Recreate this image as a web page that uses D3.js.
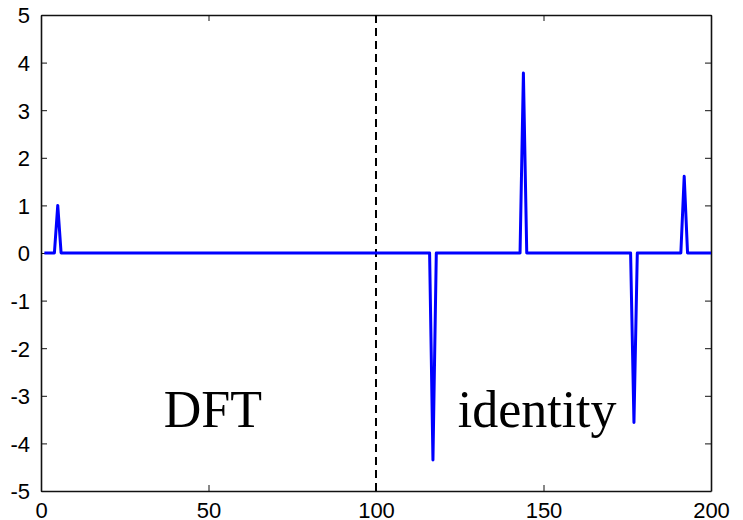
<!DOCTYPE html>
<html>
<head>
<meta charset="utf-8">
<script src="https://cdn.jsdelivr.net/npm/d3@7"></script>
<style>
  body { margin: 0; background: #fff; }
  svg { display: block; }
</style>
</head>
<body>
<div id="plot"></div>
<script>
// Signal vertices (sample index, value): flat at zero with five spikes
const sampleX = [1, 4, 5, 6, 116, 117, 118, 143, 144, 145, 176, 177, 178, 191, 192, 193, 200];
const sampleY = [0, 0, 1, 0, 0, -4.35, 0, 0, 3.78, 0, 0, -3.56, 0, 0, 1.61, 0, 0];

const xTicks = [0, 50, 100, 150, 200];
const yTicks = [-5, -4, -3, -2, -1, 0, 1, 2, 3, 4, 5];
const splitAt = 100;
const labels = [{text: "DFT", x: 51.3, y: -3.65}, {text: "identity", x: 148.1, y: -3.65}];

const W = 743, H = 520;
const margin = {top: 15, right: 32, bottom: 29, left: 41};
const width = W - margin.left - margin.right;
const height = H - margin.top - margin.bottom;

const svg = d3.select("#plot")
  .append("svg")
  .attr("width", W)
  .attr("height", H);

const g = svg.append("g")
  .attr("transform", `translate(${margin.left},${margin.top})`);

const x = d3.scaleLinear().domain([0, 200]).range([0, width]);
const y = d3.scaleLinear().domain([-5, 5]).range([height, 0]);

const tickFont = "Liberation Sans, Arial, sans-serif";
const plain = d => String(d); // hyphen minus like matlab

// axes with inward ticks (matlab style)
const axBottom = g.append("g")
  .attr("transform", `translate(0,${height})`)
  .call(d3.axisBottom(x).tickValues(xTicks).tickFormat(plain).tickSizeInner(-6).tickSizeOuter(0).tickPadding(11));
const axLeft = g.append("g")
  .call(d3.axisLeft(y).tickValues(yTicks).tickFormat(plain).tickSizeInner(-6).tickSizeOuter(0).tickPadding(11));
const axTop = g.append("g")
  .call(d3.axisTop(x).tickValues(xTicks).tickSizeInner(-6).tickSizeOuter(0).tickFormat(""));
const axRight = g.append("g")
  .attr("transform", `translate(${width},0)`)
  .call(d3.axisRight(y).tickValues(yTicks).tickSizeInner(-6).tickSizeOuter(0).tickFormat(""));

[axBottom, axLeft, axTop, axRight].forEach(a => {
  a.select(".domain").attr("stroke", "#111").attr("stroke-width", 1.6);
  a.selectAll(".tick line").attr("stroke", "#111").attr("stroke-width", 1);
  a.selectAll(".tick text")
    .attr("fill", "#000")
    .style("font-family", tickFont)
    .style("font-size", "22px");
});
axBottom.selectAll(".tick text").attr("dy", "0.71em");
axLeft.selectAll(".tick text").attr("dy", "0.36em");

// dashed divider
g.append("line")
  .attr("x1", x(splitAt)).attr("x2", x(splitAt))
  .attr("y1", 0).attr("y2", height)
  .attr("stroke", "#000")
  .attr("stroke-width", 2)
  .attr("stroke-dasharray", "8,5");

// signal
const points = sampleX.map((v, i) => [v, sampleY[i]]);
g.append("path")
  .datum(points)
  .attr("fill", "none")
  .attr("stroke", "#0000ff")
  .attr("stroke-width", 3)
  .attr("stroke-linejoin", "round")
  .attr("d", d3.line().x(d => x(d[0])).y(d => y(d[1])));

// region labels
g.selectAll(".region-label")
  .data(labels)
  .enter()
  .append("text")
  .attr("class", "region-label")
  .attr("x", d => x(d.x))
  .attr("y", d => y(d.y))
  .attr("text-anchor", "middle")
  .style("font-family", "Liberation Serif, Times New Roman, serif")
  .style("font-size", "52px")
  .text(d => d.text);
</script>
</body>
</html>
